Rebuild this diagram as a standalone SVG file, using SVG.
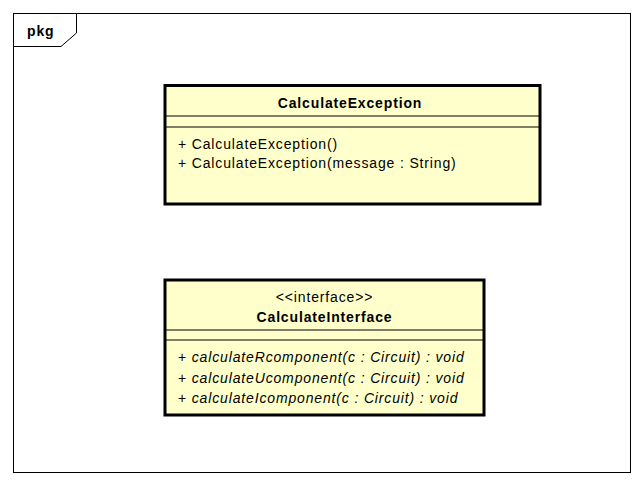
<svg xmlns="http://www.w3.org/2000/svg" width="644" height="486" viewBox="0 0 644 486">
<style>
text{font-family:"Liberation Sans",Arial,sans-serif;font-size:14px;fill:#000;letter-spacing:0.85px}
.b{font-weight:bold}
.i{font-style:italic}
.box{fill:#FFFFCC;stroke:#000;stroke-width:3}
.sep{stroke:#000;stroke-width:1.2}
.frame{fill:none;stroke:#000;stroke-width:1}
</style>
<rect width="644" height="486" fill="#fff"/>
<g id="pkg">
<rect class="frame" x="13.5" y="13.5" width="617" height="459"/>
<path class="frame" d="M76.5 13.5V33L61 46.5H13.5"/>
<text class="b" x="27" y="36">pkg</text>
</g>
<g id="CalculateException">
<rect class="box" x="165" y="85.5" width="375" height="118.5"/>
<line class="sep" x1="165" y1="116" x2="540" y2="116"/>
<line class="sep" x1="165" y1="127" x2="540" y2="127"/>
<text class="b" x="350" y="108" text-anchor="middle">CalculateException</text>
<text x="178" y="149">+ CalculateException()</text>
<text x="178" y="168">+ CalculateException(message : String)</text>
</g>
<g id="CalculateInterface">
<rect class="box" x="165" y="280" width="319" height="135"/>
<line class="sep" x1="165" y1="330" x2="484" y2="330"/>
<line class="sep" x1="165" y1="340" x2="484" y2="340"/>
<text x="324.5" y="302" text-anchor="middle">&lt;&lt;interface&gt;&gt;</text>
<text class="b" x="324.5" y="322" text-anchor="middle">CalculateInterface</text>
<text x="178" y="362">+ <tspan class="i">calculateRcomponent(c : Circuit) : void</tspan></text>
<text x="178" y="383">+ <tspan class="i">calculateUcomponent(c : Circuit) : void</tspan></text>
<text x="178" y="403">+ <tspan class="i">calculateIcomponent(c : Circuit) : void</tspan></text>
</g>
<g id="connectors"/>
</svg>
